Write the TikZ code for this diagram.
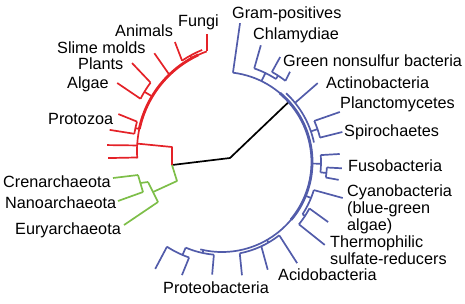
\documentclass[tikz,border=0pt]{standalone}
\usepackage{fontspec}
\setmainfont{Liberation Sans}
\definecolor{cEuk}{RGB}{228,34,40}
\definecolor{cArch}{RGB}{125,190,72}
\definecolor{cBact}{RGB}{82,92,170}
\tikzset{
    taxon/.style={anchor=base west, inner sep=0pt, font=\fontsize{16.3}{16.7}\selectfont},
    euk/.style  ={draw=cEuk, line width=1.7bp},
    arch/.style ={draw=cArch, line width=1.7bp, line join=round},
    bact/.style ={draw=cBact, line width=1.7bp},
    trunk/.style={line width=2.8bp},
    stem/.style ={draw=black, line width=1.7bp, line join=round},
}
% radial twig: style, centre, angle/radius of base, angle/radius of tip
\newcommand{\twig}[6]{\draw[#1] ([shift={(#3:#4)}]#2) -- ([shift={(#5:#6)}]#2);}
% arc round a centre: style, centre, start angle, radius, end angle
\newcommand{\bow}[5]{\draw[#1] ([shift={(#3:#4)}]#2) arc[start angle=#3, end angle=#5, radius=#4];}

\begin{document}
\begin{tikzpicture}[x=1bp, y=-1bp]
    \useasboundingbox (0,0) rectangle (465,303);
    \coordinate (O) at (222,162);
    \coordinate (Q) at (243,151);
    \coordinate (root) at (172,165);
    \coordinate (knee) at (230,158);
    \coordinate (bactroot) at ([shift={(-42:90)}]O);
    \coordinate (eukroot) at ([shift={(184:106)}]Q);

    \draw[stem] (root) -- (knee) -- (bactroot);

    % bacteria
    \bow{bact}{O}{-83}{90}{104}
    \bow{bact,trunk}{O}{-50}{90}{40}
    \twig{bact}{O}{-83}{90}{-82.6}{140}
    \twig{bact}{O}{-64}{90}{-64}{99}
    \bow{bact}{O}{-71}{99}{-57}
    \twig{bact}{O}{-71}{99}{-71.6}{123}
    \twig{bact}{O}{-57}{99}{-57}{103}
    \bow{bact}{O}{-61}{103}{-52}
    \twig{bact}{O}{-61}{103}{-61}{120}
    \twig{bact}{O}{-52}{103}{-53}{113}
    \bow{bact}{O}{-47}{94}{-12}
    \twig{bact}{O}{-39}{94}{-39.5}{124}
    \twig{bact}{O}{-19}{94}{-19}{101}
    \bow{bact}{O}{-24}{101}{-14}
    \twig{bact}{O}{-24}{101}{-23}{128}
    \twig{bact}{O}{-14}{101}{-14}{124}
    \twig{bact}{O}{1}{90}{1}{99}
    \bow{bact}{O}{-4}{99}{6}
    \twig{bact}{O}{-4}{99}{-3.9}{118}
    \twig{bact}{O}{6}{99}{6}{105}
    \bow{bact}{O}{3}{105}{8.5}
    \twig{bact}{O}{3}{105}{3}{120}
    \twig{bact}{O}{8.5}{105}{8.7}{118}
    \twig{bact}{O}{22}{90}{22}{96}
    \bow{bact}{O}{17}{96}{33}
    \twig{bact}{O}{17}{96}{16.6}{126}
    \twig{bact}{O}{33}{96}{33}{99}
    \bow{bact}{O}{28}{99}{39}
    \twig{bact}{O}{28}{99}{29.5}{122}
    \twig{bact}{O}{39}{99}{38.9}{132}
    \twig{bact}{O}{60}{90}{60}{93}
    \bow{bact}{O}{52}{93}{79}
    \twig{bact}{O}{52}{93}{53.4}{126}
    \twig{bact}{O}{65}{93}{67}{117}
    \twig{bact}{O}{79}{93}{80}{115}
    \twig{bact}{O}{102}{90}{102}{93}
    \bow{bact}{O}{95}{93}{113}
    \twig{bact}{O}{95}{93}{95}{113}
    \twig{bact}{O}{113}{93}{113}{101}
    \bow{bact}{O}{109}{101}{123}
    \twig{bact}{O}{109}{101}{109.5}{120}
    \twig{bact}{O}{123}{101}{122}{126}

    % eukarya
    \draw[euk, line join=round] (root) -- (172,147) -- (eukroot);
    \bow{euk}{Q}{176}{106}{250}
    \bow{euk,trunk}{Q}{192}{106}{245}
    \twig{euk}{Q}{176.5}{106}{177}{135}
    \twig{euk}{Q}{183}{106}{182.5}{136}
    \twig{euk}{Q}{192}{106}{192}{110}
    \bow{euk}{Q}{189}{110}{195.5}
    \twig{euk}{Q}{189}{110}{189}{135}
    \twig{euk}{Q}{195.5}{110}{196.5}{130}
    \twig{euk}{Q}{211}{106}{211}{115}
    \bow{euk}{Q}{207}{115}{216.5}
    \twig{euk}{Q}{207}{115}{208.4}{143}
    \twig{euk}{Q}{216.5}{115}{218.4}{141.6}
    \twig{euk}{Q}{226}{106}{227.8}{132}
    \twig{euk}{Q}{241}{106}{241}{109}
    \bow{euk}{Q}{236}{109}{248}
    \twig{euk}{Q}{236}{109}{238}{128.5}
    \draw[euk] ([shift={(250:106)}]Q) -- ++(0,-17);

    % archaea
    \coordinate (a1) at (177,181);
    \coordinate (a2) at (153,192);
    \coordinate (a3) at (140.4,183);
    \draw[arch] (root) -- (a1) -- (a2);
    \draw[arch] (148,182) -- (158,202);
    \draw[arch] (a3) -- (148,182);
    \draw[arch] (138,175) -- (143,192);
    \draw[arch] (113,178) -- (138,175);
    \draw[arch] (118,201) -- (143,192);
    \draw[arch] (124,225) -- (158,202);

    \node[taxon] (gram)     at (232,18.3)  {Gram-positives};
    \node[taxon] (chlam)    at (253,39.3)  {Chlamydiae};
    \node[taxon] (gns)      at (283,66.7)  {Green nonsulfur bacteria};
    \node[taxon] (actino)   at (326,88.3)  {Actinobacteria};
    \node[taxon] (planc)    at (340,108.3) {Planctomycetes};
    \node[taxon] (spiro)    at (344,136)   {Spirochaetes};
    \node[taxon] (fuso)     at (348,171.7) {Fusobacteria};
    \node[taxon] (cyano)    at (347,196.7) {\begin{tabular}[t]{@{}l@{}}Cyanobacteria\\(blue-green\\algae)\end{tabular}};
    \node[taxon] (thermo)   at (330,247.3) {\begin{tabular}[t]{@{}l@{}}Thermophilic\\sulfate-reducers\end{tabular}};
    \node[taxon] (acido)    at (278,280)   {Acidobacteria};
    \node[taxon] (proteo)   at (163,293.3) {Proteobacteria};
    \node[taxon] (fungi)    at (178,26.7)  {Fungi};
    \node[taxon] (animals)  at (115,36.7)  {Animals};
    \node[taxon] (slime)    at (57,53.3)   {Slime molds};
    \node[taxon] (plants)   at (78,69.3)   {Plants};
    \node[taxon] (algae)    at (67,88.3)   {Algae};
    \node[taxon] (protozoa) at (48,124)    {Protozoa};
    \node[taxon] (cren)     at (3,187.7)   {Crenarchaeota};
    \node[taxon] (nano)     at (5,208.3)   {Nanoarchaeota};
    \node[taxon] (eury)     at (15,234.3)  {Euryarchaeota};
\end{tikzpicture}
\end{document}
